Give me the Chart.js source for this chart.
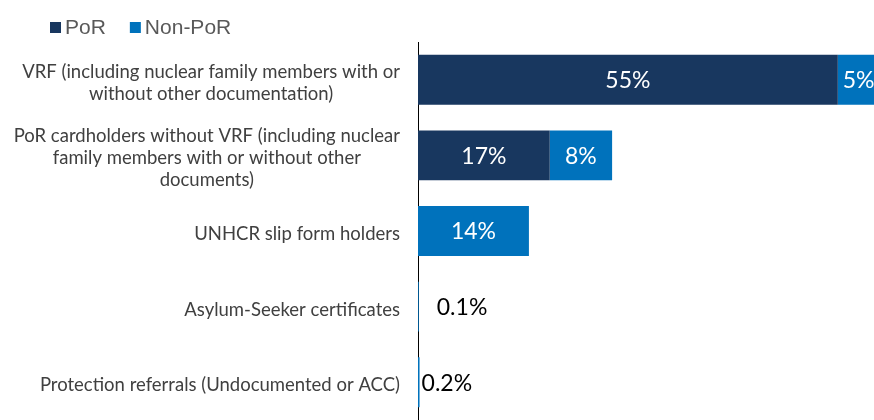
<!DOCTYPE html>
<html>
<head>
<meta charset="utf-8">
<script src="https://cdn.jsdelivr.net/npm/chart.js@4"></script>
<style>
  body { margin: 0; background: #ffffff; }
  #wrap { width: 874px; height: 420px; position: relative; }
</style>
</head>
<body>
<div id="wrap"><canvas id="docs-chart"></canvas></div>
<script>
// chart data
const categories = [
    ['VRF (including nuclear family members with or', 'without other documentation)'],
    ['PoR cardholders without VRF (including nuclear', 'family members with or without other', 'documents)'],
    ['UNHCR slip form holders'],
    ['Asylum-Seeker certificates'],
    ['Protection referrals (Undocumented or ACC)']
];
const seriesNames = ['PoR', 'Non-PoR'];
const porValues = [54.5, 17.1, 0, 0, 0];
const nonPorValues = [5.4, 8.1, 14.4, 0.1, 0.2];

const colors = ['#18375f', '#0072bc'];

function formatPct(v) {
    return (v < 1 ? v.toFixed(1) : Math.round(v)) + '%';
}

// draws the value labels, the y labels (right-aligned block, centered lines) and the legend
const labelsPlugin = {
    id: 'labelsPlugin',
    afterDatasetsDraw(chart) {
        const ctx = chart.ctx;
        const area = chart.chartArea;
        const outsideGap = [0, 0, 0, 18, 2];

        ctx.save();
        ctx.font = '23px Lato';
        ctx.textBaseline = 'middle';
        chart.data.datasets.forEach((ds, di) => {
            chart.getDatasetMeta(di).data.forEach((bar, i) => {
                const v = ds.data[i];
                if (!v) return;
                const txt = formatPct(v);
                const w = ctx.measureText(txt).width;
                const barW = bar.x - bar.base;
                if (barW > w + 4) {
                    ctx.fillStyle = '#ffffff';
                    ctx.textAlign = 'center';
                    ctx.fillText(txt, bar.base + barW / 2, bar.y + 1);
                } else {
                    ctx.fillStyle = '#000000';
                    ctx.textAlign = 'left';
                    ctx.fillText(txt, bar.x + outsideGap[i], bar.y + 1);
                }
            });
        });

        // y labels
        const yScale = chart.scales.y;
        ctx.font = '18.5px Lato';
        ctx.fillStyle = '#404040';
        ctx.textAlign = 'center';
        const lineH = 22;
        const right = area.left - 18;
        categories.forEach((lines, i) => {
            const y = yScale.getPixelForTick(i) + 3;
            const maxW = Math.max(...lines.map(l => ctx.measureText(l).width));
            const cx = right - maxW / 2;
            const top = y - (lines.length - 1) * lineH / 2;
            lines.forEach((l, k) => ctx.fillText(l, cx, top + k * lineH));
        });

        // legend
        ctx.font = '21px "Liberation Sans"';
        ctx.textAlign = 'left';
        let x = 50;
        seriesNames.forEach((name, i) => {
            ctx.fillStyle = colors[i];
            ctx.fillRect(x, 22, 11, 11);
            ctx.fillStyle = '#595959';
            ctx.fillText(name, x + 15, 28);
            x += 15 + ctx.measureText(name).width + 24;
        });
        ctx.restore();
    }
};

const docsCtx = document.getElementById('docs-chart').getContext('2d');
const docsChart = new Chart(docsCtx, {
    type: 'bar',
    data: {
        labels: categories.map(c => c.join(' ')),
        datasets: [
            {
                label: seriesNames[0],
                data: porValues,
                backgroundColor: colors[0],
                categoryPercentage: 1,
                barPercentage: 0.66
            },
            {
                label: seriesNames[1],
                data: nonPorValues,
                backgroundColor: colors[1],
                categoryPercentage: 1,
                barPercentage: 0.66
            }
        ]
    },
    options: {
        indexAxis: 'y',
        responsive: true,
        maintainAspectRatio: false,
        animation: false,
        layout: {
            padding: { left: 418, top: 42, right: 0, bottom: 0 }
        },
        scales: {
            x: {
                stacked: true,
                display: false,
                min: 0,
                max: 59.2
            },
            y: {
                stacked: true,
                grid: { display: false },
                border: { display: true, color: '#000000', width: 1 },
                ticks: { display: false },
                afterFit: function (scale) {
                    scale.width = 0;
                }
            }
        },
        plugins: {
            legend: { display: false },
            tooltip: { enabled: false }
        }
    },
    plugins: [labelsPlugin]
});
</script>
</body>
</html>
